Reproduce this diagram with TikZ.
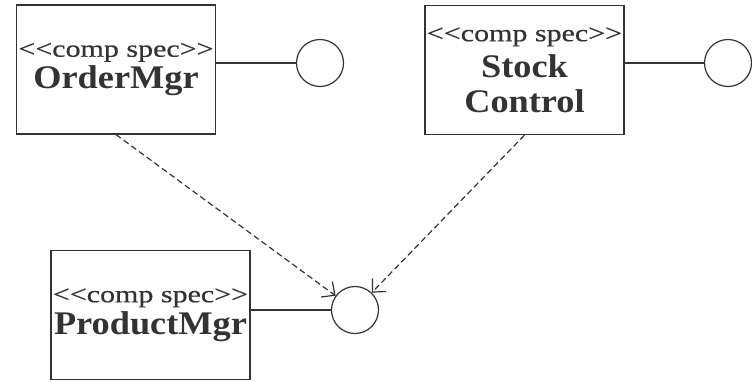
\documentclass[tikz,border=0pt]{standalone}
\usepackage{fontspec}
\setmainfont[FakeStretch=1.1]{Liberation Serif}
\newfontfamily\stereofont[FakeStretch=1.25,FakeBold=0.5]{Liberation Serif}
\usepackage{tikz}
\usetikzlibrary{arrows.meta,positioning}

\newcommand{\stereo}{\stereofont\fontsize{24}{35}\selectfont <{}<comp spec>{}>}
\newcommand{\cname}{\bfseries}

\begin{document}
\begin{tikzpicture}[x=1pt, y=-1pt,
        comp/.style={draw=black!80, line width=1.2pt, rectangle, minimum width=199pt, minimum height=129pt, align=center, inner sep=0pt, text=black!80, font=\fontsize{33}{35}\selectfont},
        iface/.style={draw=black!80, line width=1.2pt, circle, minimum size=47pt, inner sep=0pt},
        wire/.style={draw=black!80, line width=1.2pt},
        dep/.style={draw=black!80, line width=1.2pt, dash pattern=on 6pt off 3.5pt, -{Straight Barb[length=10pt,width=19pt]}},
        >=Latex
    ]
        \useasboundingbox (0,0) rectangle (752,381);

        \node[comp] (order) at (116,69.5) {\stereo\\[-3pt]\cname OrderMgr};
        \node[comp] (stock) at (524.5,70) {\stereo\\[1pt]\cname Stock\\\cname Control};
        \node[comp] (product) at (150.5,315) {\stereo\\[-3pt]\cname ProductMgr};

        \node[iface] (orderI) at (320,63) {};
        \node[iface] (stockI) at (728,63) {};
        \node[iface] (productI) at (355,310) {};

        \draw[wire] (order.east |- orderI) -- (orderI.west);
        \draw[wire] (stock.east |- stockI) -- (stockI.west);
        \draw[wire] (product.east |- productI) -- (productI.west);

        \draw[dep] (order.south) -- (productI);
        \draw[dep] (stock.south) -- (productI);
    \end{tikzpicture}
\end{document}
